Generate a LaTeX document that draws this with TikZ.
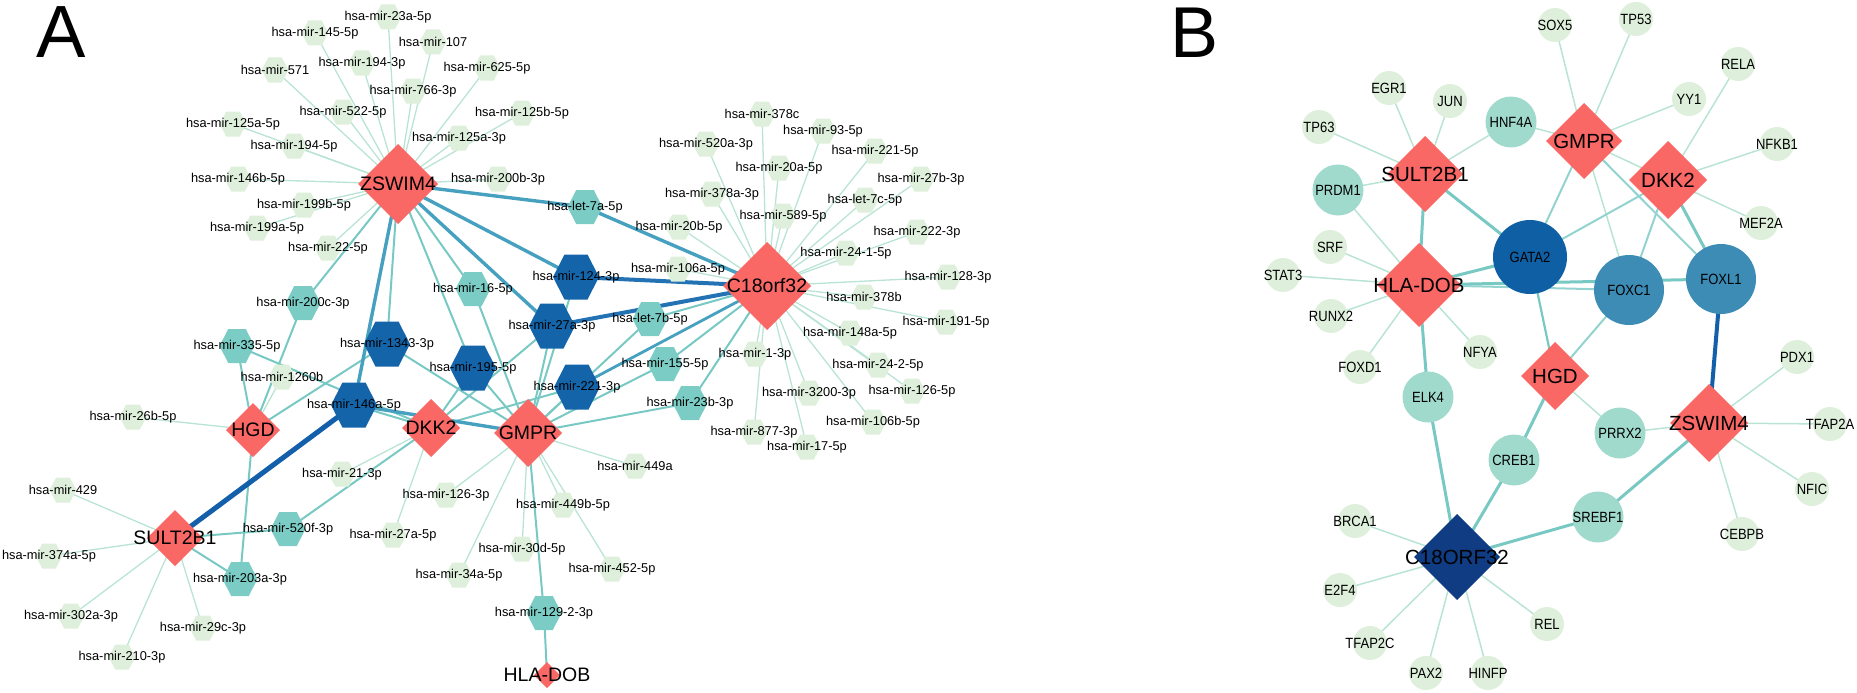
\documentclass[tikz,border=0pt]{standalone}
\usepackage{fontspec}
\setmainfont{Liberation Sans}
\usetikzlibrary{shapes.geometric,calc}
\pgfdeclarelayer{background}
\pgfdeclarelayer{fg}
\pgfsetlayers{background,main,fg}
\definecolor{hub}{RGB}{250,104,102}
\definecolor{hexL}{RGB}{222,240,220}
\definecolor{hexT}{RGB}{122,204,196}
\definecolor{hexD}{RGB}{20,100,170}
\definecolor{edL}{RGB}{185,228,212}
\definecolor{edM}{RGB}{120,200,195}
\definecolor{edT}{RGB}{70,160,192}
\definecolor{edB}{RGB}{35,115,180}
\definecolor{edD}{RGB}{20,95,170}
\definecolor{cirL}{RGB}{222,240,220}
\definecolor{cirT}{RGB}{160,218,205}
\definecolor{cirG}{RGB}{15,95,165}
\definecolor{cirF}{RGB}{60,140,182}
\definecolor{navy}{RGB}{15,60,130}
\tikzset{
  hexfill/.style={inner sep=0pt, outer sep=0pt, path picture={\fill[#1]
    (path picture bounding box.west) --
    ($(path picture bounding box.north west)!0.25!(path picture bounding box.north east)$) --
    ($(path picture bounding box.north west)!0.75!(path picture bounding box.north east)$) --
    (path picture bounding box.east) --
    ($(path picture bounding box.south west)!0.75!(path picture bounding box.south east)$) --
    ($(path picture bounding box.south west)!0.25!(path picture bounding box.south east)$) -- cycle;}},
  hl/.style={rectangle, minimum width=27pt, minimum height=25pt, hexfill=hexL},
  ht/.style={rectangle, minimum width=35pt, minimum height=34pt, hexfill=hexT},
  hd/.style={rectangle, minimum width=46pt, minimum height=45pt, hexfill=hexD},
  dia/.style={diamond, fill=#1, draw=none, inner sep=0pt, outer sep=0pt},
  hubd/.style={dia=hub, minimum width=#1, minimum height=#1},
  cir/.style={circle, fill=#1, draw=none, inner sep=0pt, outer sep=0pt},
  cl/.style={cir=cirL, minimum size=34pt},
  ct/.style={cir=cirT, minimum size=51pt},
  lm/.style={font=\fontsize{12.8}{14}\selectfont, inner sep=0pt},
  lh/.style={font=\fontsize{19.5}{22}\selectfont, inner sep=0pt},
  lb/.style={font=\fontsize{13}{15}\selectfont, inner sep=0pt},
  lbh/.style={font=\fontsize{20.5}{24}\selectfont, inner sep=0pt},
  eL/.style={draw=edL, line width=1.3pt},
  eM/.style={draw=edM, line width=2pt},
  eT/.style={draw=edT, line width=3.4pt},
  eB/.style={draw=edB, line width=4pt},
  eD/.style={draw=edD, line width=5pt},
  bL/.style={draw=edL, line width=1.5pt},
  bM/.style={draw=edM, line width=3pt},
  bD/.style={draw=edD, line width=4pt},
}
\newcommand\nd[6]{\node[#1] (#3) at (#4,#5) {};\begin{pgfonlayer}{fg}\node[#2] (#3-t) at (#3.center) {#6};\end{pgfonlayer}}
\newcommand\sy[1]{\scalebox{1}[1.14]{#1}}
\begin{document}
\begin{tikzpicture}[x=1pt,y=-1pt]
\useasboundingbox (0,0) rectangle (1857,693);
\node[anchor=base west, font=\fontsize{74}{80}\selectfont, inner sep=0pt] (lblA) at (36,58) {A};
\node[anchor=base west, font=\fontsize{72}{80}\selectfont, inner sep=0pt] (lblB) at (1170,57) {B};
% ---------- Panel A: light hexes
\nd{hl}{lm}{m23a5p}{388}{17}{hsa-mir-23a-5p}
\nd{hl}{lm}{m1455p}{315}{33}{hsa-mir-145-5p}
\nd{hl}{lm}{m107}{433}{42}{hsa-mir-107}
\nd{hl}{lm}{m1943p}{362}{63}{hsa-mir-194-3p}
\nd{hl}{lm}{m571}{275}{70}{hsa-mir-571}
\nd{hl}{lm}{m6255p}{487}{68}{hsa-mir-625-5p}
\nd{hl}{lm}{m7663p}{413}{91}{hsa-mir-766-3p}
\nd{hl}{lm}{m5225p}{343}{112}{hsa-mir-522-5p}
\nd{hl}{lm}{m125b5p}{522}{113}{hsa-mir-125b-5p}
\nd{hl}{lm}{m125a5p}{233}{124}{hsa-mir-125a-5p}
\nd{hl}{lm}{m125a3p}{459}{138}{hsa-mir-125a-3p}
\nd{hl}{lm}{m1945p}{294}{146}{hsa-mir-194-5p}
\nd{hl}{lm}{m146b5p}{238}{179}{hsa-mir-146b-5p}
\nd{hl}{lm}{m200b3p}{498}{179}{hsa-mir-200b-3p}
\nd{hl}{lm}{m199b5p}{304}{205}{hsa-mir-199b-5p}
\nd{hl}{lm}{m199a5p}{257}{228}{hsa-mir-199a-5p}
\nd{hl}{lm}{m225p}{328}{248}{hsa-mir-22-5p}
\nd{hl}{lm}{m1260b}{282}{377}{hsa-mir-1260b}
\nd{hl}{lm}{m26b5p}{133}{417}{hsa-mir-26b-5p}
\nd{hl}{lm}{m213p}{342}{474}{hsa-mir-21-3p}
\nd{hl}{lm}{m1263p}{446}{495}{hsa-mir-126-3p}
\nd{hl}{lm}{m429}{63}{490}{hsa-mir-429}
\nd{hl}{lm}{m27a5p}{393}{535}{hsa-mir-27a-5p}
\nd{hl}{lm}{m374a5p}{49}{556}{hsa-mir-374a-5p}
\nd{hl}{lm}{m34a5p}{459}{575}{hsa-mir-34a-5p}
\nd{hl}{lm}{m302a3p}{71}{616}{hsa-mir-302a-3p}
\nd{hl}{lm}{m29c3p}{203}{628}{hsa-mir-29c-3p}
\nd{hl}{lm}{m2103p}{122}{657}{hsa-mir-210-3p}
\nd{hl}{lm}{m449b5p}{563}{505}{hsa-mir-449b-5p}
\nd{hl}{lm}{m30d5p}{522}{549}{hsa-mir-30d-5p}
\nd{hl}{lm}{m4525p}{612}{569}{hsa-mir-452-5p}
\nd{hl}{lm}{m449a}{635}{466}{hsa-mir-449a}
\nd{hl}{lm}{m378c}{762}{114}{hsa-mir-378c}
\nd{hl}{lm}{m935p}{823}{131}{hsa-mir-93-5p}
\nd{hl}{lm}{m520a3p}{706}{144}{hsa-mir-520a-3p}
\nd{hl}{lm}{m2215p}{875}{151}{hsa-mir-221-5p}
\nd{hl}{lm}{m20a5p}{779}{168}{hsa-mir-20a-5p}
\nd{hl}{lm}{m27b3p}{921}{179}{hsa-mir-27b-3p}
\nd{hl}{lm}{m378a3p}{712}{194}{hsa-mir-378a-3p}
\nd{hl}{lm}{let7c}{865}{200}{hsa-let-7c-5p}
\nd{hl}{lm}{m5895p}{783}{216}{hsa-mir-589-5p}
\nd{hl}{lm}{m20b5p}{679}{227}{hsa-mir-20b-5p}
\nd{hl}{lm}{m2223p}{917}{232}{hsa-mir-222-3p}
\nd{hl}{lm}{m2415p}{846}{253}{hsa-mir-24-1-5p}
\nd{hl}{lm}{m106a5p}{678}{269}{hsa-mir-106a-5p}
\nd{hl}{lm}{m1283p}{948}{277}{hsa-mir-128-3p}
\nd{hl}{lm}{m378b}{864}{297}{hsa-mir-378b}
\nd{hl}{lm}{m1915p}{946}{322}{hsa-mir-191-5p}
\nd{hl}{lm}{m148a5p}{850}{333}{hsa-mir-148a-5p}
\nd{hl}{lm}{m13p}{755}{354}{hsa-mir-1-3p}
\nd{hl}{lm}{m2425p}{878}{365}{hsa-mir-24-2-5p}
\nd{hl}{lm}{m1265p}{912}{391}{hsa-mir-126-5p}
\nd{hl}{lm}{m32003p}{809}{393}{hsa-mir-3200-3p}
\nd{hl}{lm}{m106b5p}{873}{422}{hsa-mir-106b-5p}
\nd{hl}{lm}{m8773p}{754}{432}{hsa-mir-877-3p}
\nd{hl}{lm}{m175p}{807}{447}{hsa-mir-17-5p}
% teal hexes
\nd{ht}{lm}{m200c3p}{303}{303}{hsa-mir-200c-3p}
\nd{ht}{lm}{m165p}{473}{289}{hsa-mir-16-5p}
\nd{ht}{lm}{m3355p}{237}{346}{hsa-mir-335-5p}
\nd{ht}{lm}{let7a}{585}{207}{hsa-let-7a-5p}
\nd{ht}{lm}{let7b}{650}{319}{hsa-let-7b-5p}
\nd{ht}{lm}{m1555p}{665}{364}{hsa-mir-155-5p}
\nd{ht}{lm}{m23b3p}{690}{403}{hsa-mir-23b-3p}
\nd{ht}{lm}{m520f3p}{288}{529}{hsa-mir-520f-3p}
\nd{ht}{lm}{m203a3p}{240}{579}{hsa-mir-203a-3p}
\nd{ht}{lm}{m12923p}{544}{613}{hsa-mir-129-2-3p}
% dark hexes
\nd{hd}{lm}{m13433p}{387}{344}{hsa-mir-1343-3p}
\nd{hd}{lm}{m1955p}{473}{368}{hsa-mir-195-5p}
\nd{hd}{lm}{m146a5p}{354}{405}{hsa-mir-146a-5p}
\nd{hd}{lm}{m1243p}{576}{277}{hsa-mir-124-3p}
\nd{hd}{lm}{m27a3p}{552}{326}{hsa-mir-27a-3p}
\nd{hd}{lm}{m2213p}{577}{387}{hsa-mir-221-3p}
% hubs A
\nd{hubd=80pt}{lh}{aZS}{398}{184}{ZSWIM4}
\nd{hubd=88pt}{lh}{aC18}{767}{286}{C18orf32}
\nd{hubd=58pt}{lh}{aDKK}{431}{428}{DKK2}
\nd{hubd=68pt}{lh}{aGM}{528}{433}{GMPR}
\nd{hubd=54pt}{lh}{aHGD}{253}{430}{HGD}
\nd{hubd=56pt}{lh}{aSU}{175}{538}{SULT2B1}
\nd{hubd=26pt}{lh}{aHLA}{547}{675}{HLA-DOB}
% ---------- Panel B nodes
\nd{cl}{lb}{bSOX5}{1555}{25}{\sy{SOX5}}
\nd{cl}{lb}{bTP53}{1636}{19}{\sy{TP53}}
\nd{cl}{lb}{bRELA}{1738}{64}{\sy{RELA}}
\nd{cl}{lb}{bEGR1}{1389}{88}{\sy{EGR1}}
\nd{cl}{lb}{bJUN}{1450}{101}{\sy{JUN}}
\nd{cl}{lb}{bYY1}{1689}{99}{\sy{YY1}}
\nd{cl}{lb}{bTP63}{1319}{127}{\sy{TP63}}
\nd{cl}{lb}{bNFKB1}{1777}{144}{\sy{NFKB1}}
\nd{cl}{lb}{bMEF2A}{1761}{223}{\sy{MEF2A}}
\nd{cl}{lb}{bSRF}{1330}{247}{\sy{SRF}}
\nd{cl}{lb}{bSTAT3}{1283}{275}{\sy{STAT3}}
\nd{cl}{lb}{bRUNX2}{1331}{316}{\sy{RUNX2}}
\nd{cl}{lb}{bNFYA}{1480}{352}{\sy{NFYA}}
\nd{cl}{lb}{bFOXD1}{1360}{367}{\sy{FOXD1}}
\nd{cl}{lb}{bPDX1}{1797}{357}{\sy{PDX1}}
\nd{cl}{lb}{bTFAP2A}{1830}{424}{\sy{TFAP2A}}
\nd{cl}{lb}{bNFIC}{1812}{489}{\sy{NFIC}}
\nd{cl}{lb}{bBRCA1}{1355}{521}{\sy{BRCA1}}
\nd{cl}{lb}{bCEBPB}{1742}{534}{\sy{CEBPB}}
\nd{cl}{lb}{bE2F4}{1340}{590}{\sy{E2F4}}
\nd{cl}{lb}{bREL}{1547}{624}{\sy{REL}}
\nd{cl}{lb}{bTFAP2C}{1370}{643}{\sy{TFAP2C}}
\nd{cl}{lb}{bPAX2}{1426}{673}{\sy{PAX2}}
\nd{cl}{lb}{bHINFP}{1488}{673}{\sy{HINFP}}
\nd{ct}{lb}{bHNF4A}{1511}{122}{\sy{HNF4A}}
\nd{ct}{lb}{bPRDM1}{1338}{190}{\sy{PRDM1}}
\nd{ct}{lb}{bELK4}{1428}{397}{\sy{ELK4}}
\nd{ct}{lb}{bPRRX2}{1620}{433}{\sy{PRRX2}}
\nd{ct}{lb}{bCREB1}{1514}{460}{\sy{CREB1}}
\nd{ct}{lb}{bSREBF1}{1598}{517}{\sy{SREBF1}}
\nd{cir=cirG, minimum size=74pt}{lb}{bGATA2}{1530}{257}{\sy{GATA2}}
\nd{cir=cirF, minimum size=70pt}{lb}{bFOXC1}{1629}{290}{\sy{FOXC1}}
\nd{cir=cirF, minimum size=70pt}{lb}{bFOXL1}{1721}{279}{\sy{FOXL1}}
\nd{hubd=76pt}{lbh}{bGMPR}{1584}{141}{GMPR}
\nd{hubd=76pt}{lbh}{bSULT}{1425}{174}{SULT2B1}
\nd{hubd=78pt}{lbh}{bDKK2}{1668}{180}{DKK2}
\nd{hubd=84pt}{lbh}{bHLA}{1419}{285}{HLA-DOB}
\nd{hubd=68pt}{lbh}{bHGD}{1555}{376}{HGD}
\nd{hubd=78pt}{lbh}{bZS}{1709}{423}{ZSWIM4}
\nd{dia=navy, minimum width=86pt, minimum height=86pt}{lbh}{bC18}{1457}{557}{C18ORF32}
% ---------- edges
\begin{pgfonlayer}{background}
\foreach \n in {m23a5p,m1455p,m107,m1943p,m571,m6255p,m7663p,m5225p,m125b5p,m125a5p,m125a3p,m1945p,m146b5p,m200b3p,m199b5p,m199a5p,m225p}
  \draw[eL] (aZS.center) -- (\n.center);
\foreach \n in {m378c,m935p,m520a3p,m2215p,m20a5p,m27b3p,m378a3p,let7c,m5895p,m20b5p,m2223p,m2415p,m106a5p,m1283p,m378b,m1915p,m148a5p,m13p,m2425p,m1265p,m32003p,m106b5p,m8773p,m175p}
  \draw[eL] (aC18.center) -- (\n.center);
\foreach \n in {m1263p,m449b5p,m30d5p,m34a5p,m4525p,m449a}
  \draw[eL] (aGM.center) -- (\n.center);
\foreach \n in {m429,m374a5p,m302a3p,m2103p,m29c3p}
  \draw[eL] (aSU.center) -- (\n.center);
\foreach \n in {m26b5p,m1260b}
  \draw[eL] (aHGD.center) -- (\n.center);
\foreach \n in {m213p,m27a5p}
  \draw[eL] (aDKK.center) -- (\n.center);
\foreach \n in {m200c3p,m165p,m13433p,m1955p}
  \draw[eM] (aZS.center) -- (\n.center);
\foreach \n in {m200c3p,m3355p,m13433p,m203a3p}
  \draw[eM] (aHGD.center) -- (\n.center);
\foreach \n in {m520f3p,m3355p,m146a5p,m1955p,m27a3p,m2213p}
  \draw[eM] (aDKK.center) -- (\n.center);
\foreach \n in {m12923p,m23b3p,m1555p,let7b,m165p,m2213p,m1243p,m27a3p,m1955p,m13433p}
  \draw[eM] (aGM.center) -- (\n.center);
\foreach \n in {m1555p,m23b3p,let7b}
  \draw[eM] (aC18.center) -- (\n.center);
\foreach \n in {m520f3p,m203a3p}
  \draw[eM] (aSU.center) -- (\n.center);
\draw[eM] (aHLA.center) -- (m12923p.center);
\draw[eT, line width=2.8pt] (aC18.center) -- (m2213p.center);
\draw[eT] (aGM.center) -- (m146a5p.center);
\draw[eT] (aZS.center) -- (let7a.center);
\draw[eT] (aC18.center) -- (let7a.center);
\draw[eT] (aZS.center) -- (m1243p.center);
\draw[eT] (aZS.center) -- (m27a3p.center);
\draw[eT] (aZS.center) -- (m146a5p.center);
\draw[eB] (aC18.center) -- (m1243p.center);
\draw[eB] (aC18.center) -- (m27a3p.center);
\draw[eD] (aSU.center) -- (m146a5p.center);
% panel B
\foreach \n in {bSOX5,bTP53,bYY1} \draw[bL] (bGMPR.center) -- (\n.center);
\foreach \n in {bRELA,bNFKB1,bMEF2A} \draw[bL] (bDKK2.center) -- (\n.center);
\foreach \n in {bEGR1,bJUN,bTP63,bPRDM1,bHNF4A} \draw[bL] (bSULT.center) -- (\n.center);
\draw[bL] (bHNF4A.center) -- (bGMPR.center);
\foreach \n in {bPRDM1,bSRF,bSTAT3,bRUNX2,bFOXD1,bNFYA} \draw[bL] (bHLA.center) -- (\n.center);
\foreach \n in {bPDX1,bTFAP2A,bNFIC,bCEBPB,bPRRX2} \draw[bL] (bZS.center) -- (\n.center);
\draw[bL] (bPRRX2.center) -- (bHGD.center);
\foreach \n in {bBRCA1,bE2F4,bTFAP2C,bPAX2,bHINFP,bREL} \draw[bL] (bC18.center) -- (\n.center);
\draw[bL] (bGMPR.center) -- (bFOXC1.center);
\draw[bL] (bGMPR.center) -- (bDKK2.center);
\draw[bL, edM!80, line width=2pt] (bGMPR.center) -- (bFOXL1.center);
\draw[bL, edM!80, line width=2pt] (bGMPR.center) -- (bGATA2.center);
\draw[bL, edM!80, line width=2pt] (bDKK2.center) -- (bGATA2.center);
\draw[bL, edM!80, line width=2pt] (bDKK2.center) -- (bFOXC1.center);
\draw[bM] (bDKK2.center) -- (bFOXL1.center);
\draw[bM] (bSULT.center) -- (bGATA2.center);
\draw[bM] (bSULT.center) -- (bHLA.center);
\draw[bM] (bHLA.center) -- (bGATA2.center);
\draw[bM] (bHLA.center) -- (bFOXL1.center);
\draw[bL, edM!80, line width=2pt] (bHLA.center) -- (bFOXC1.center);
\draw[bM, line width=2.2pt] (bGATA2.center) -- (bHGD.center);
\draw[bL, edM!80, line width=2pt] (bFOXC1.center) -- (bHGD.center);
\draw[bM] (bHGD.center) -- (bCREB1.center);
\draw[bM] (bCREB1.center) -- (bC18.center);
\draw[bM] (bHLA.center) -- (bELK4.center);
\draw[bM] (bELK4.center) -- (bC18.center);
\draw[bM] (bSREBF1.center) -- (bC18.center);
\draw[bM] (bSREBF1.center) -- (bZS.center);
\draw[bD] (bFOXL1.center) -- (bZS.center);
\end{pgfonlayer}
\end{tikzpicture}
\end{document}
